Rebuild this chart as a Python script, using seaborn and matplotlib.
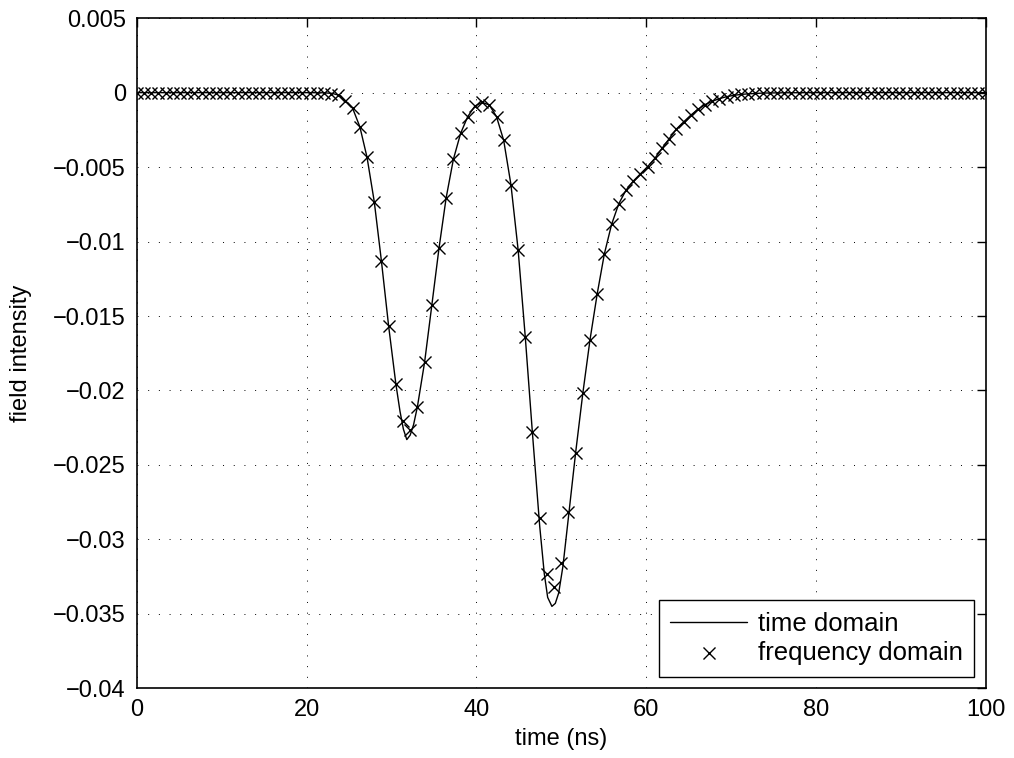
import numpy as np
import matplotlib
matplotlib.use("Agg")
import matplotlib.pyplot as plt
import seaborn as sns
from matplotlib.ticker import FuncFormatter

# -------------------------------
# Data
# -------------------------------
# frequency domain result, uniformly sampled from 0 to 100 ns
n_freq = 119
freq_t = np.linspace(0, 100, n_freq)
freq_vals = (
    [0.0] * 26
    + [-0.00003, -0.00008, -0.00016, -0.00054, -0.00105, -0.00229, -0.00435,
       -0.00733, -0.0113, -0.01567, -0.01955, -0.02202, -0.02265, -0.02112,
       -0.01809, -0.01428, -0.01043, -0.00706, -0.00448, -0.00274, -0.00161,
       -0.0009, -0.00065, -0.00083, -0.00161, -0.00321, -0.00617, -0.01056,
       -0.0164, -0.02276, -0.02858, -0.03233, -0.0332, -0.0316, -0.02817,
       -0.02418, -0.0202, -0.01659, -0.0135, -0.01083, -0.00885, -0.00746,
       -0.00655, -0.00595, -0.00546, -0.00497, -0.00442, -0.00375, -0.0031,
       -0.00245, -0.00197, -0.00152, -0.00112, -0.0008, -0.00058, -0.0004,
       -0.00027, -0.00018, -0.00012, -0.00008, -0.00005, -0.00003, -0.00002]
    + [0.0] * 30
)

# time domain result
time_t = [0, 20, 22, 23, 24, 24.58, 25.42, 26.27, 27.12, 27.97, 28.81, 29.66,
          30.51, 31.0, 31.4, 31.8, 32.2, 32.6, 33.05, 33.9, 34.75, 35.6, 36.44,
          37.29, 38.14, 38.98, 39.83, 40.68, 41.53, 42.37, 43.22, 44.07, 44.92,
          45.76, 46.61, 47.46, 48.0, 48.4, 48.9, 49.3, 49.7, 50.2, 50.85, 51.69,
          52.54, 53.39, 54.24, 55.08, 55.93, 56.78, 57.63, 58.47, 59.32, 60.17,
          61.02, 61.86, 62.71, 63.56, 64.41, 65.25, 66.1, 66.95, 67.8, 68.64,
          69.49, 70.34, 71.19, 72.03, 73.73, 76, 80, 100]
time_v = [0, 0, -0.00001, -0.00005, -0.0002, -0.00054, -0.00105, -0.00229,
          -0.00435, -0.00733, -0.0113, -0.01567, -0.01955, -0.0214, -0.0226,
          -0.0233, -0.0230, -0.0223, -0.0211, -0.0181, -0.01428, -0.01043,
          -0.00706, -0.00448, -0.00274, -0.00161, -0.0009, -0.00065, -0.00083,
          -0.00161, -0.00321, -0.00617, -0.01056, -0.0164, -0.0229, -0.0291,
          -0.0323, -0.0339, -0.0345, -0.0343, -0.0336, -0.0318, -0.0285,
          -0.0242, -0.0202, -0.01659, -0.0135, -0.01083, -0.00885, -0.00746,
          -0.00655, -0.00595, -0.00546, -0.00497, -0.00442, -0.00375, -0.0031,
          -0.00245, -0.00197, -0.00152, -0.00112, -0.0008, -0.00058, -0.0004,
          -0.00027, -0.00018, -0.00012, -0.00008, -0.00003, -0.00001, 0, 0]

x_ticks = [0, 20, 40, 60, 80, 100]
y_ticks = [0.005, 0, -0.005, -0.01, -0.015, -0.02, -0.025, -0.03, -0.035, -0.04]

# -------------------------------
# Style
# -------------------------------
sns.set_style("white")
plt.rcParams["font.family"] = ["Liberation Sans", "DejaVu Sans"]
plt.rcParams["font.size"] = 17
for key in ["text.color", "axes.labelcolor", "xtick.color", "ytick.color"]:
    plt.rcParams[key] = "black"

fig = plt.figure(figsize=(10.14, 7.58), dpi=100)
ax = fig.add_axes([0.135, 0.092, 0.837, 0.884])

sns.lineplot(x=time_t, y=time_v, ax=ax, color="k", lw=1.0, sort=False,
             label="time domain")
sns.scatterplot(x=freq_t, y=freq_vals, ax=ax, marker="x", color="k", s=75,
                linewidth=1.0, label="frequency domain", zorder=3)

ax.set_xlim(0, 100)
ax.set_ylim(-0.04, 0.005)
ax.set_xticks(x_ticks)
ax.set_yticks(y_ticks)


def fmt(v, _):
    if abs(v) < 1e-12:
        return "0"
    return ("%g" % round(v, 4)).replace("-", "\u2212")


ax.yaxis.set_major_formatter(FuncFormatter(fmt))
ax.grid(True, color="k", linestyle=(0, (1, 10)), linewidth=0.7)
ax.set_axisbelow(True)
ax.tick_params(direction="in", length=6.5, width=1, top=True, right=True,
               labelsize=17, pad=8, colors="black")
for s in ax.spines.values():
    s.set_color("k")
    s.set_linewidth(1.2)

ax.set_xlabel("time (ns)", fontsize=17, labelpad=5, color="black")
ax.set_ylabel("field intensity", fontsize=17, labelpad=15, color="black")

leg = ax.legend(loc="lower right", frameon=True, fancybox=False, edgecolor="k",
                framealpha=1, handlelength=3.0, handletextpad=0.4, borderpad=0.45,
                labelspacing=0.2, borderaxespad=0.45, fontsize=18.5)
leg.get_frame().set_linewidth(1.0)
for txt in leg.get_texts():
    txt.set_color("black")

fig.savefig("out.png", dpi=100)
